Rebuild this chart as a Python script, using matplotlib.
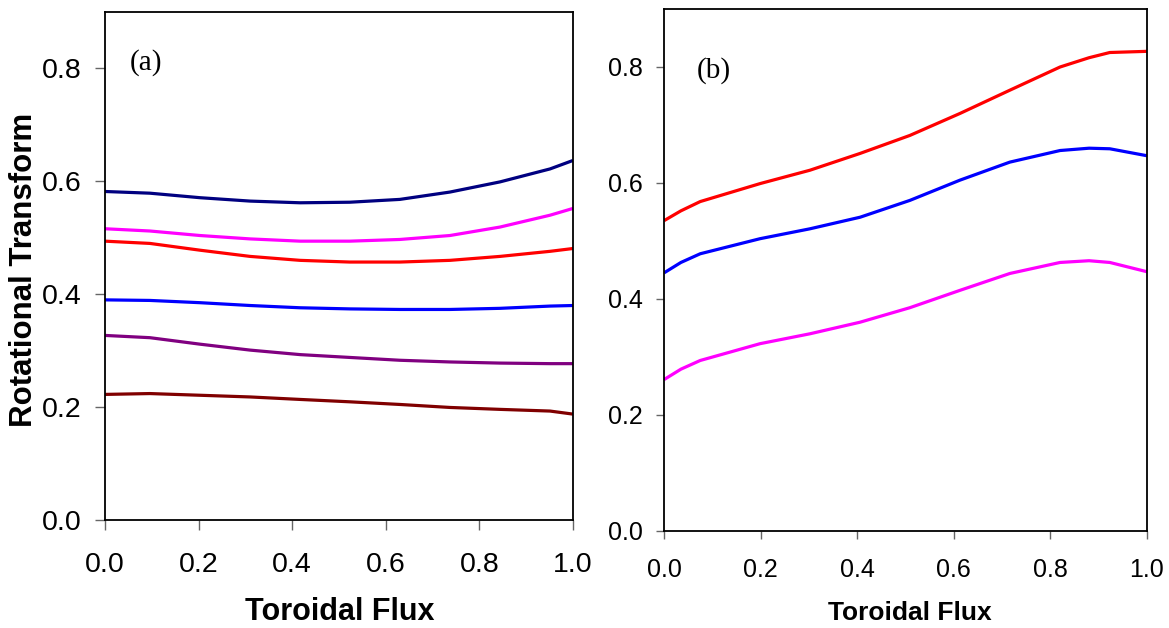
import numpy as np
import matplotlib
matplotlib.use("Agg")
import matplotlib.pyplot as plt

plt.rcParams['font.family'] = ['Liberation Sans', 'DejaVu Sans']

# panel (a): six profiles
xa = [0.0, 0.096, 0.203, 0.31, 0.417, 0.523, 0.63, 0.737, 0.844, 0.951, 1.0]
navy_a    = [0.582, 0.579, 0.571, 0.565, 0.562, 0.563, 0.568, 0.581, 0.599, 0.622, 0.637]
magenta_a = [0.516, 0.512, 0.504, 0.498, 0.494, 0.494, 0.497, 0.504, 0.519, 0.540, 0.552]
red_a     = [0.494, 0.490, 0.478, 0.467, 0.460, 0.457, 0.457, 0.460, 0.467, 0.476, 0.481]
blue_a    = [0.390, 0.389, 0.385, 0.380, 0.376, 0.374, 0.373, 0.373, 0.375, 0.379, 0.380]
purple_a  = [0.327, 0.323, 0.3115, 0.301, 0.293, 0.288, 0.283, 0.280, 0.278, 0.277, 0.277]
maroon_a  = [0.2225, 0.224, 0.221, 0.218, 0.2136, 0.2094, 0.2047, 0.1994, 0.196, 0.193, 0.1876]

# panel (b): three profiles
xb = [0.0, 0.035, 0.075, 0.199, 0.302, 0.406, 0.509, 0.613, 0.716, 0.82, 0.88, 0.923, 1.0]
red_b     = [0.535, 0.552, 0.568, 0.599, 0.622, 0.651, 0.682, 0.720, 0.760, 0.800, 0.816, 0.825, 0.827]
blue_b    = [0.445, 0.463, 0.478, 0.504, 0.521, 0.541, 0.570, 0.605, 0.636, 0.656, 0.660, 0.659, 0.647]
magenta_b = [0.261, 0.279, 0.294, 0.323, 0.340, 0.360, 0.385, 0.415, 0.444, 0.463, 0.466, 0.463, 0.447]

ticks = [0.0, 0.2, 0.4, 0.6, 0.8, 1.0]
yticks = [0.0, 0.2, 0.4, 0.6, 0.8]

W, H = 1169, 628
fig = plt.figure(figsize=(W / 100, H / 100), dpi=100)

def px_axes(x0, y0, x1, y1):
    return fig.add_axes([x0 / W, 1 - y1 / H, (x1 - x0) / W, (y1 - y0) / H])

ax1 = px_axes(105, 12, 573, 520)
ax2 = px_axes(664, 9, 1147, 531)

lw = 2.3
for y, c in [(navy_a, '#000080'), (magenta_a, '#FF00FF'), (red_a, '#FF0000'),
             (blue_a, '#0000FF'), (purple_a, '#800080'), (maroon_a, '#800000')]:
    ax1.plot(xa, y, color=c, lw=lw, solid_capstyle='butt', solid_joinstyle='round')

for y, c in [(red_b, '#FF0000'), (blue_b, '#0000FF'), (magenta_b, '#FF00FF')]:
    ax2.plot(xb, y, color=c, lw=lw, solid_capstyle='butt', solid_joinstyle='round')

for ax, fs, tl, xpad in [(ax1, 20.5, 7, 16), (ax2, 18, 5.5, 14)]:
    ax.set_xlim(0, 1)
    ax.set_ylim(0, 0.9)
    ax.set_xticks(ticks)
    ax.set_yticks(yticks)
    ax.set_xticklabels(['%.1f' % t for t in ticks])
    ax.set_yticklabels(['%.1f' % t for t in yticks])
    ax.tick_params(axis='x', direction='out', length=tl, width=1, pad=xpad,
                   labelsize=fs, colors='#666666', labelcolor='black')
    ax.tick_params(axis='y', direction='out', length=tl, width=1, pad=10,
                   labelsize=fs, colors='#666666', labelcolor='black')
    for s in ax.spines.values():
        s.set_linewidth(1.3)
        s.set_color('black')

serif = ['Liberation Serif', 'DejaVu Serif']
fig.text(146 / W, 1 - 63 / H, '(a)', ha='center', va='center', fontsize=21, family=serif)
fig.text(714 / W, 1 - 71 / H, '(b)', ha='center', va='center', fontsize=21, family=serif)

fig.text(24 / W, 1 - 270 / H, 'Rotational Transform', rotation=90, ha='center', va='center',
         fontsize=22.5, fontweight='bold')
fig.text(340 / W, 1 - 620 / H, 'Toroidal Flux', ha='center', va='baseline',
         fontsize=22, fontweight='bold')
fig.text(910 / W, 1 - 620 / H, 'Toroidal Flux', ha='center', va='baseline',
         fontsize=19, fontweight='bold')

fig.savefig('out.png', dpi=100)
